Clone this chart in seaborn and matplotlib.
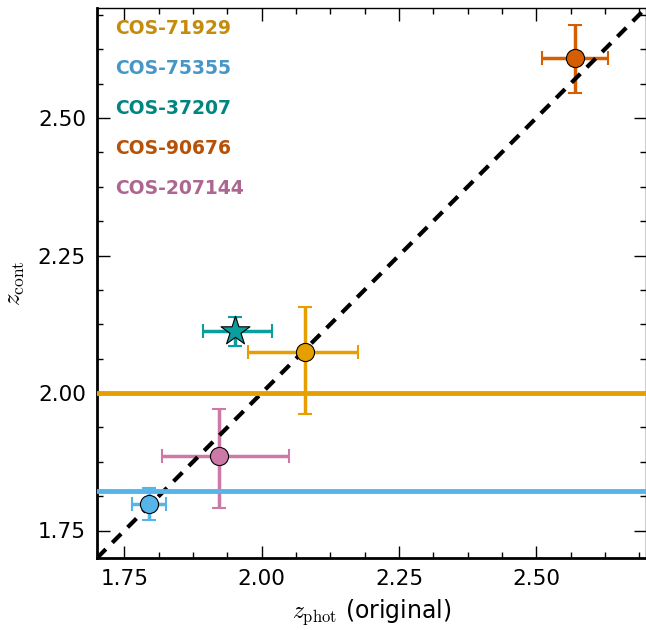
import numpy as np
import pandas as pd
import seaborn as sns
import matplotlib.pyplot as plt
import matplotlib.ticker as ticker

# source names and colours
names = ["COS-71929", "COS-75355", "COS-37207", "COS-90676", "COS-207144"]
colors = ["#E69F00", "#56B4E9", "#0A9E9E", "#D55E00", "#CC79A7"]
text_colors = ["#C48B0C", "#4796C6", "#008680", "#B65106", "#AC6690"]
markers = ["o", "o", "*", "o", "o"]

# photometric redshifts and errors
z_phot = [2.078, 1.795, 1.951, 2.571, 1.922]
z_phot_lo = [0.103, 0.032, 0.058, 0.060, 0.103]
z_phot_hi = [0.097, 0.031, 0.068, 0.060, 0.127]

# continuum redshifts and errors
z_cont = [2.074, 1.798, 2.113, 2.609, 1.886]
z_cont_lo = [0.112, 0.029, 0.027, 0.064, 0.095]
z_cont_hi = [0.082, 0.030, 0.026, 0.061, 0.085]

# horizontal reference lines (source index, value)
hline_src = [0, 1]
hline_val = [2.00, 1.822]

# one-to-one line
diag = [1.70, 2.70]

ticks = [1.75, 2.00, 2.25, 2.50]

sns.set_style("ticks")
plt.rcParams["mathtext.fontset"] = "cm"
plt.rcParams["font.family"] = ["DejaVu Sans"]
plt.rcParams["text.color"] = "black"
plt.rcParams["axes.labelcolor"] = "black"

fig = plt.figure(figsize=(6.46, 6.30), dpi=100)
ax = fig.add_axes([97 / 646, 72 / 630, 549 / 646, 550 / 630])

df = pd.DataFrame({"x": diag, "y": diag})
sns.lineplot(data=df, x="x", y="y", ax=ax, color="black", lw=3, zorder=2)
ax.lines[-1].set_dashes((3, 2.2))

for i, v in zip(hline_src, hline_val):
    ax.axhline(v, color=colors[i], lw=3.5, zorder=3)

for i in range(len(names)):
    ax.errorbar(z_phot[i], z_cont[i],
                xerr=[[z_phot_lo[i]], [z_phot_hi[i]]],
                yerr=[[z_cont_lo[i]], [z_cont_hi[i]]],
                fmt="none", ecolor=colors[i], elinewidth=2.5,
                capsize=5, capthick=1.5, zorder=1)

pts = pd.DataFrame({"x": z_phot, "y": z_cont, "name": names})
for i in range(len(names)):
    sub = pts.iloc[[i]]
    sns.scatterplot(data=sub, x="x", y="y", ax=ax, color=colors[i],
                    marker=markers[i], s=480 if markers[i] == "*" else 170,
                    edgecolor="black", linewidth=0.8, zorder=5, legend=False)

for i, n in enumerate(names):
    ax.text(0.033, 0.962 - i * 0.0727, n, transform=ax.transAxes,
            color=text_colors[i], fontsize=13.5, fontweight="bold",
            va="center", ha="left")

ax.set_xlim(1.70, 2.70)
ax.set_ylim(1.70, 2.70)
ax.set_xticks(ticks)
ax.set_yticks(ticks)
ax.xaxis.set_minor_locator(ticker.AutoMinorLocator(4))
ax.yaxis.set_minor_locator(ticker.AutoMinorLocator(4))
ax.tick_params(which="both", direction="in", top=True, right=True,
               colors="black", labelsize=15.5, pad=8)
ax.tick_params(which="major", length=9, width=1)
ax.tick_params(which="minor", length=4.5, width=1)

for s in ["left", "bottom"]:
    ax.spines[s].set_linewidth(2)
for s in ["top", "right"]:
    ax.spines[s].set_linewidth(1)
for s in ax.spines.values():
    s.set_color("black")

ax.set_xlabel(r"$z_{\rm phot}$ (original)", fontsize=17, labelpad=6,
              color="black")
ax.set_ylabel(r"$z_{\rm cont}$", fontsize=18, labelpad=8, color="black")

fig.savefig("out.png", dpi=100)
